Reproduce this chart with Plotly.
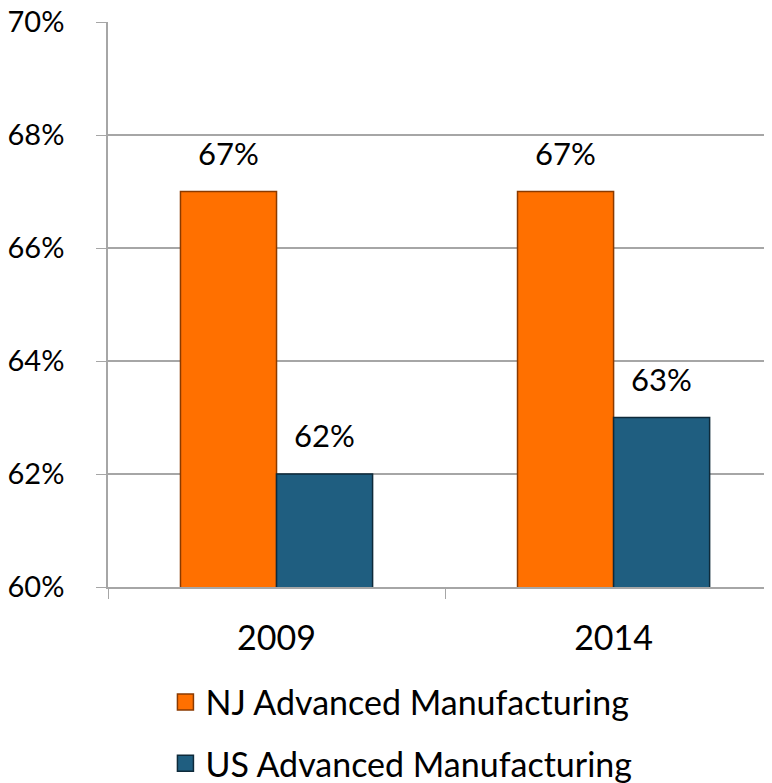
import plotly.graph_objects as go

years = ['2009', '2014']
nj_values = [67, 67]
us_values = [62, 63]
series_names = ['NJ Advanced Manufacturing', 'US Advanced Manufacturing']
y_ticks = [60, 62, 64, 66, 68, 70]

colors = {
    'nj': '#FF7000',
    'nj_edge': '#8A3A00',
    'us': '#1F5E80',
    'us_edge': '#0E2A3A',
    'grid': '#A6A6A6',
}
FONT = 'Lato'
FS_TICK = 29  # y tick labels
FS_NUM = 31   # value labels
FS_TXT = 34   # legend / years

fig = go.Figure()

# bars
for vals, key, name in [(nj_values, 'nj', series_names[0]), (us_values, 'us', series_names[1])]:
    fig.add_trace(go.Bar(
        x=years, y=vals, name=name, showlegend=False,
        marker=dict(color=colors[key], line=dict(color=colors[key + '_edge'], width=1.5)),
    ))

# legend entries with bigger square symbols
for key, name in [('nj', series_names[0]), ('us', series_names[1])]:
    fig.add_trace(go.Scatter(
        x=[None], y=[None], mode='markers', name=name, legendgroup=key,
        marker=dict(symbol='square', size=22, color=colors[key],
                    line=dict(color=colors[key + '_edge'], width=1.5)),
    ))

# value labels above the bars (x given as category index)
for vals, shift in [(nj_values, -48), (us_values, 48)]:
    for i, v in enumerate(vals):
        fig.add_annotation(x=i, y=v, xref='x', yref='y', text=f'{v}%', showarrow=False,
                           xshift=shift, yshift=18, yanchor='bottom',
                           font=dict(size=FS_NUM, color='black', family=FONT))

# page body has an 8px margin, so the figure is sized 8px smaller
fig.update_layout(
    width=764, height=775,
    margin=dict(l=100, r=0, t=14, b=196, autoexpand=False),
    plot_bgcolor='white', paper_bgcolor='white',
    barmode='group', bargap=0.43, bargroupgap=0,
    font=dict(family=FONT, size=FS_TXT, color='black'),
    showlegend=True,
    legend=dict(x=0.0865, y=-0.153, xanchor='left', yanchor='top',
                orientation='v', tracegroupgap=14,
                font=dict(size=FS_TXT, family=FONT)),
)
fig.update_xaxes(
    type='category', range=[-0.5, 1.47], automargin=False,
    showline=True, linecolor=colors['grid'], linewidth=1.5,
    ticks='outside', tickson='boundaries', ticklen=10, tickcolor=colors['grid'],
    ticklabelstandoff=20, showgrid=False,
)
fig.update_yaxes(
    range=[60, 70], tickvals=y_ticks, ticktext=[f'{t}%' for t in y_ticks],
    automargin=False, tickfont=dict(size=FS_TICK), ticklabeloverflow='allow',
    showline=True, linecolor=colors['grid'], linewidth=1.5,
    showgrid=True, gridcolor=colors['grid'], gridwidth=1.5,
    ticks='outside', ticklen=10, tickcolor=colors['grid'],
    ticklabelstandoff=26, zeroline=False,
)

fig.write_html('out.html')
